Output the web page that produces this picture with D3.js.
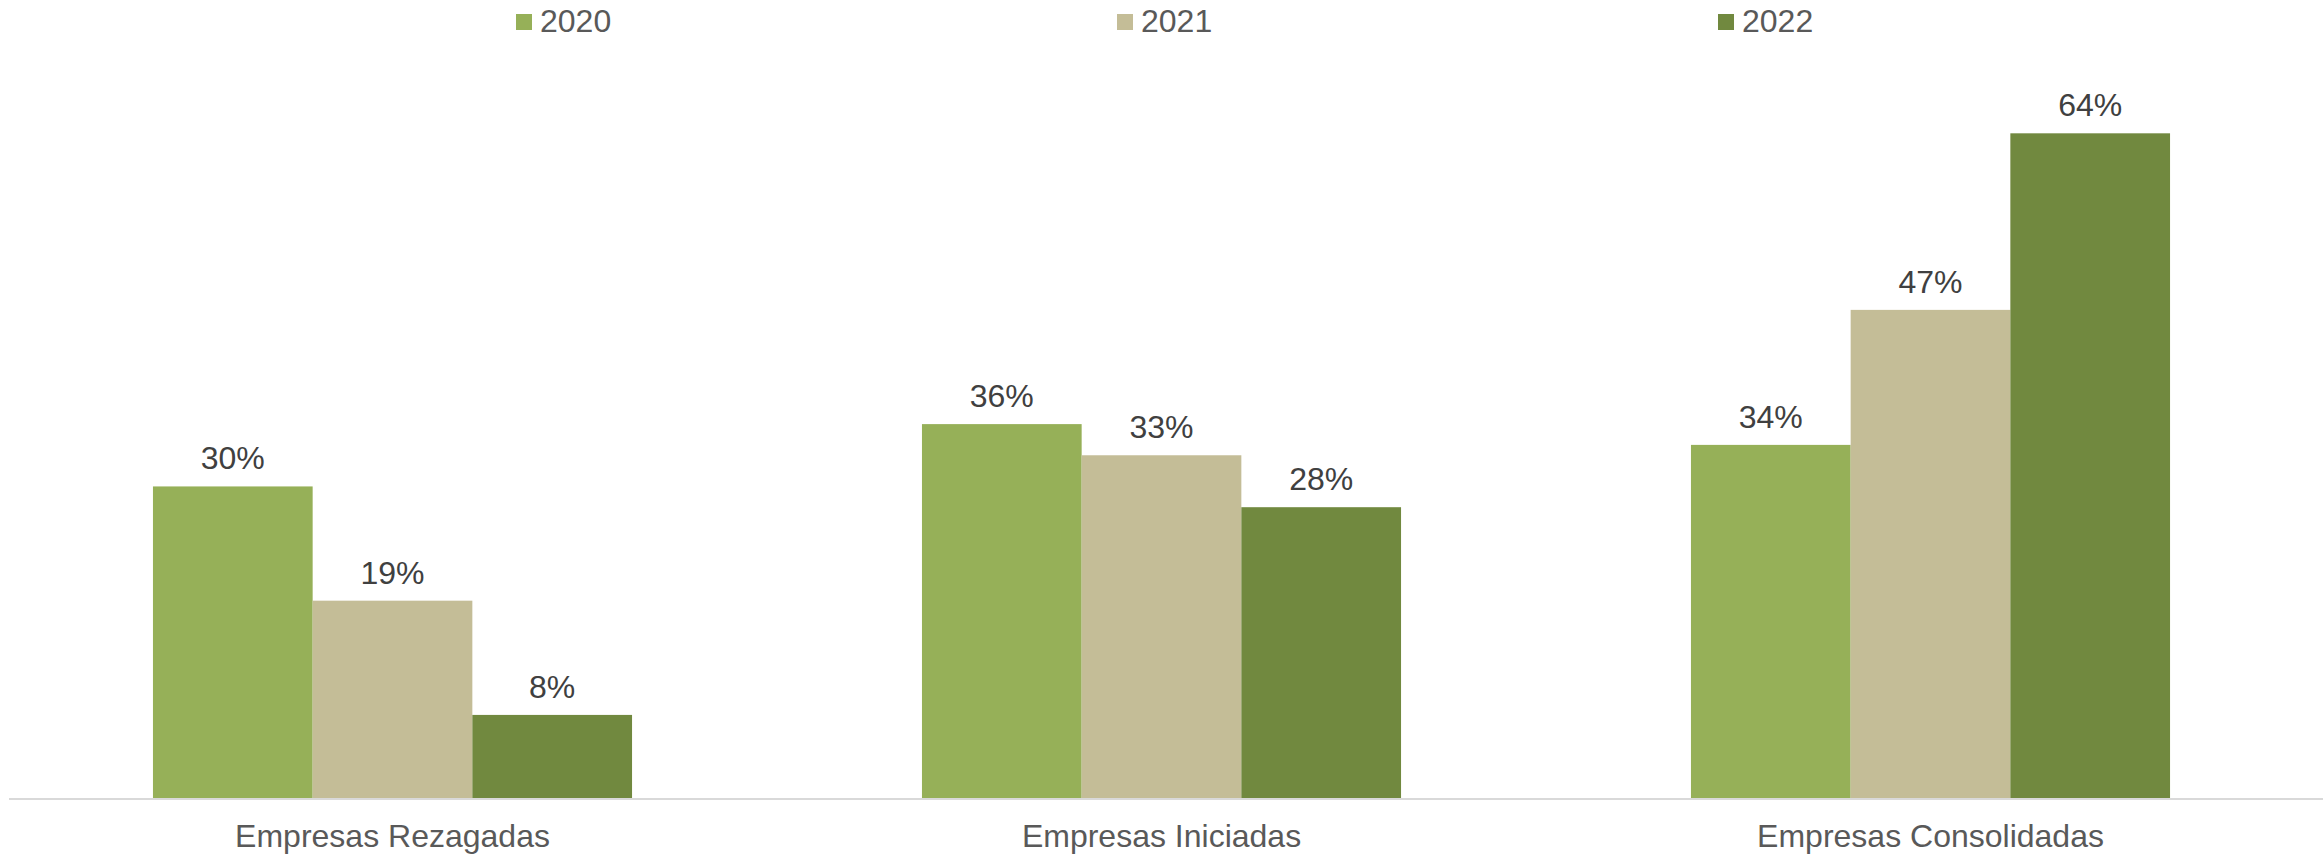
<!DOCTYPE html>
<html>
<head>
<meta charset="utf-8">
<script src="https://cdn.jsdelivr.net/npm/d3@7"></script>
<style>
  html, body { margin: 0; padding: 0; background: #fff; }
  svg { display: block; font-family: "Liberation Sans", Arial, sans-serif; }
</style>
</head>
<body>
<svg id="chart" width="2323" height="855"></svg>
<script>
const categories = ["Empresas Rezagadas", "Empresas Iniciadas", "Empresas Consolidadas"];
const years = ["2020", "2021", "2022"];
const values2020 = [30, 36, 34];
const values2021 = [19, 33, 47];
const values2022 = [8, 28, 64];
const colors = ["#96b058", "#c4bd97", "#71893f"];

const series = [values2020, values2021, values2022];

const svg = d3.select("#chart");
const width = 2323;

/** x scales: category bands, then years inside each band */
const x0 = d3.scaleBand()
  .domain(categories)
  .range([8, 2315])
  .paddingInner(0.377)
  .paddingOuter(0.1885);

const x1 = d3.scaleBand()
  .domain(years)
  .range([0, x0.bandwidth()]);

/** y transform */
const y = d3.scaleLinear().domain([0, 70]).range([798, 71]);

/** bars + value labels */
categories.forEach((cat, ci) => {
  const g = svg.append("g").attr("transform", `translate(${x0(cat)},0)`);
  years.forEach((yr, si) => {
    const v = series[si][ci];
    g.append("rect")
      .attr("x", x1(yr))
      .attr("y", y(v))
      .attr("width", x1.bandwidth())
      .attr("height", y(0) - y(v))
      .attr("fill", colors[si]);
    g.append("text")
      .attr("x", x1(yr) + x1.bandwidth() / 2)
      .attr("y", y(v) - 17)
      .attr("text-anchor", "middle")
      .attr("font-size", 32)
      .attr("fill", "#404040")
      .text(`${v}%`);
  });
});

/** category axis */
const xAxis = d3.axisBottom(x0).tickSize(0).tickPadding(0);
const axisG = svg.append("g").attr("transform", `translate(0,${y(0)})`).call(xAxis);
axisG.select(".domain").remove();
axisG.selectAll("text")
  .attr("dy", null)
  .attr("y", 49)
  .attr("font-size", 32)
  .attr("font-family", "Liberation Sans, Arial, sans-serif")
  .attr("fill", "#595959");

svg.append("line")
  .attr("x1", 9)
  .attr("x2", width)
  .attr("y1", y(0) + 1)
  .attr("y2", y(0) + 1)
  .attr("stroke", "#d9d9d9")
  .attr("stroke-width", 2);

/** legend */
const legendX = d3.scalePoint().domain(years).range([516, 1718]);
const legend = svg.append("g");
years.forEach((yr, i) => {
  legend.append("rect")
    .attr("x", legendX(yr))
    .attr("y", 14)
    .attr("width", 16)
    .attr("height", 16)
    .attr("fill", colors[i]);
  legend.append("text")
    .attr("x", legendX(yr) + 24)
    .attr("y", 32)
    .attr("font-size", 32)
    .attr("fill", "#595959")
    .text(yr);
});
</script>
</body>
</html>
